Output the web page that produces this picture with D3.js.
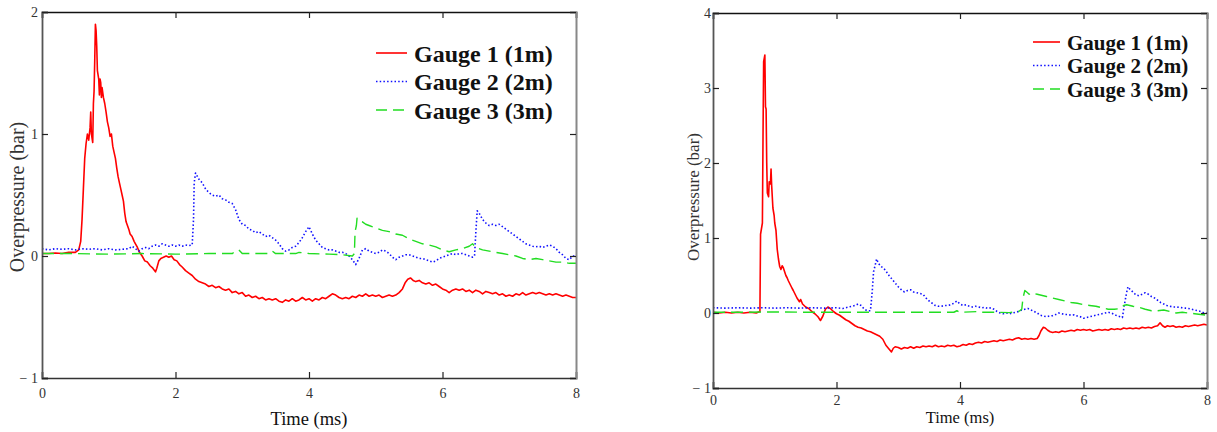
<!DOCTYPE html>
<html>
<head>
<meta charset="utf-8">
<script src="https://cdn.jsdelivr.net/npm/d3@7"></script>
<style>
    body { margin: 0; background: #fff; }
    svg { display: block; }
</style>
</head>
<body>
<svg id="chart" width="1217" height="432"></svg>
<script>
// Axis ticks shared by both panels
const xTicks = [0, 2, 4, 6, 8];
const yTicksLeft = [-1, 0, 1, 2];
const yTicksRight = [-1, 0, 1, 2, 3, 4];

const seriesNames = ["Gauge 1 (1m)", "Gauge 2 (2m)", "Gauge 3 (3m)"];

// Left panel: [time (ms), overpressure (bar)]
const gauge1Left = [[0,0.02],[0.1,0.02],[0.2,0.025],[0.3,0.02],[0.4,0.03],[0.5,0.03],[0.55,0.05],[0.58,0.12],[0.6,0.3],[0.62,0.55],[0.64,0.8],[0.66,0.92],[0.68,1.0],[0.7,0.95],[0.72,1.05],[0.73,1.18],[0.74,1.0],[0.76,0.93],[0.77,1.25],[0.78,1.35],[0.79,1.6],[0.8,1.9],[0.81,1.85],[0.82,1.72],[0.83,1.52],[0.85,1.45],[0.86,1.32],[0.87,1.45],[0.88,1.42],[0.89,1.3],[0.9,1.38],[0.92,1.3],[0.94,1.25],[0.96,1.18],[0.98,1.1],[1.0,1.05],[1.02,0.98],[1.04,1.0],[1.06,0.9],[1.08,0.85],[1.1,0.8],[1.12,0.72],[1.14,0.65],[1.16,0.6],[1.18,0.55],[1.2,0.5],[1.22,0.45],[1.24,0.35],[1.26,0.28],[1.28,0.25],[1.3,0.22],[1.32,0.18],[1.35,0.16],[1.38,0.12],[1.4,0.1],[1.43,0.07],[1.46,0.03],[1.5,0.0],[1.54,-0.04],[1.58,-0.05],[1.62,-0.08],[1.66,-0.1],[1.7,-0.13],[1.72,-0.1],[1.75,-0.04],[1.78,-0.02],[1.82,-0.01],[1.86,0.0],[1.9,-0.01],[1.94,0.0],[1.98,-0.03],[2.02,-0.04],[2.06,-0.07],[2.1,-0.09],[2.15,-0.12],[2.2,-0.14],[2.25,-0.16],[2.3,-0.19],[2.35,-0.21],[2.4,-0.22],[2.45,-0.23],[2.5,-0.25],[2.55,-0.24],[2.6,-0.26],[2.65,-0.25],[2.7,-0.27],[2.75,-0.28],[2.8,-0.27],[2.85,-0.3],[2.9,-0.29],[2.95,-0.31],[3.0,-0.3],[3.05,-0.33],[3.1,-0.32],[3.15,-0.34],[3.2,-0.33],[3.25,-0.35],[3.3,-0.34],[3.35,-0.36],[3.4,-0.35],[3.45,-0.36],[3.5,-0.35],[3.55,-0.37],[3.6,-0.38],[3.65,-0.36],[3.7,-0.37],[3.75,-0.35],[3.8,-0.37],[3.85,-0.36],[3.9,-0.34],[3.95,-0.36],[4.0,-0.35],[4.05,-0.37],[4.1,-0.35],[4.15,-0.36],[4.2,-0.34],[4.25,-0.35],[4.3,-0.33],[4.35,-0.31],[4.4,-0.32],[4.45,-0.34],[4.5,-0.35],[4.55,-0.34],[4.6,-0.35],[4.65,-0.33],[4.7,-0.34],[4.75,-0.32],[4.8,-0.33],[4.85,-0.31],[4.9,-0.33],[4.95,-0.32],[5.0,-0.33],[5.05,-0.32],[5.1,-0.34],[5.15,-0.33],[5.2,-0.32],[5.25,-0.33],[5.3,-0.32],[5.35,-0.3],[5.4,-0.27],[5.44,-0.22],[5.48,-0.19],[5.52,-0.18],[5.56,-0.2],[5.6,-0.21],[5.65,-0.2],[5.7,-0.22],[5.75,-0.23],[5.8,-0.22],[5.85,-0.24],[5.9,-0.23],[5.95,-0.25],[6.0,-0.27],[6.05,-0.28],[6.1,-0.3],[6.15,-0.28],[6.2,-0.27],[6.25,-0.28],[6.3,-0.27],[6.35,-0.29],[6.4,-0.28],[6.45,-0.3],[6.5,-0.28],[6.55,-0.29],[6.6,-0.31],[6.65,-0.29],[6.7,-0.3],[6.75,-0.31],[6.8,-0.3],[6.85,-0.32],[6.9,-0.31],[6.95,-0.33],[7.0,-0.32],[7.05,-0.33],[7.1,-0.31],[7.15,-0.32],[7.2,-0.3],[7.25,-0.32],[7.3,-0.31],[7.35,-0.3],[7.4,-0.31],[7.45,-0.3],[7.5,-0.31],[7.55,-0.32],[7.6,-0.31],[7.65,-0.32],[7.7,-0.31],[7.75,-0.32],[7.8,-0.33],[7.85,-0.32],[7.9,-0.33],[7.95,-0.34],[8.0,-0.34]];

const gauge2Left = [[0,0.06],[0.1,0.05],[0.2,0.06],[0.3,0.055],[0.4,0.06],[0.5,0.05],[0.6,0.06],[0.7,0.055],[0.8,0.06],[0.9,0.05],[1.0,0.06],[1.1,0.05],[1.2,0.055],[1.3,0.06],[1.35,0.08],[1.4,0.06],[1.45,0.04],[1.5,0.06],[1.55,0.07],[1.6,0.06],[1.65,0.08],[1.7,0.09],[1.75,0.08],[1.8,0.1],[1.85,0.09],[1.9,0.08],[1.95,0.09],[2.0,0.08],[2.05,0.09],[2.1,0.08],[2.15,0.09],[2.2,0.085],[2.25,0.09],[2.27,0.3],[2.28,0.6],[2.3,0.68],[2.35,0.63],[2.4,0.6],[2.45,0.55],[2.5,0.52],[2.55,0.5],[2.6,0.49],[2.65,0.5],[2.7,0.47],[2.75,0.46],[2.8,0.44],[2.85,0.43],[2.9,0.38],[2.95,0.3],[3.0,0.26],[3.05,0.25],[3.1,0.22],[3.15,0.21],[3.2,0.19],[3.25,0.2],[3.3,0.18],[3.35,0.16],[3.4,0.17],[3.45,0.15],[3.5,0.13],[3.55,0.1],[3.6,0.06],[3.65,0.04],[3.7,0.05],[3.75,0.07],[3.8,0.08],[3.85,0.11],[3.9,0.15],[3.95,0.2],[4.0,0.24],[4.05,0.18],[4.1,0.13],[4.15,0.1],[4.2,0.07],[4.25,0.06],[4.3,0.05],[4.35,0.05],[4.4,0.04],[4.45,0.03],[4.5,0.03],[4.55,0.02],[4.6,0.0],[4.65,-0.03],[4.7,-0.07],[4.75,-0.02],[4.8,0.05],[4.85,0.06],[4.9,0.04],[4.95,0.03],[5.0,0.02],[5.05,0.03],[5.1,0.05],[5.15,0.04],[5.2,0.02],[5.25,-0.01],[5.3,-0.03],[5.35,-0.01],[5.4,0.0],[5.45,0.01],[5.5,0.01],[5.55,0.0],[5.6,-0.01],[5.65,-0.02],[5.7,-0.02],[5.75,-0.03],[5.8,-0.04],[5.85,-0.05],[5.9,-0.04],[5.95,-0.02],[6.0,-0.01],[6.05,0.0],[6.1,0.01],[6.15,0.02],[6.2,0.01],[6.25,0.02],[6.3,0.02],[6.35,0.01],[6.4,0.0],[6.45,-0.01],[6.48,0.0],[6.5,0.2],[6.52,0.37],[6.55,0.35],[6.6,0.3],[6.65,0.27],[6.7,0.25],[6.75,0.26],[6.8,0.25],[6.85,0.26],[6.9,0.24],[6.95,0.22],[7.0,0.2],[7.05,0.18],[7.1,0.16],[7.15,0.14],[7.2,0.12],[7.25,0.1],[7.3,0.09],[7.35,0.08],[7.4,0.075],[7.45,0.08],[7.5,0.07],[7.55,0.08],[7.6,0.09],[7.65,0.08],[7.7,0.06],[7.75,0.03],[7.8,0.01],[7.85,-0.02],[7.9,-0.03],[7.95,0.0],[8.0,0.0]];

const gauge3Left = [[0,0.02],[0.5,0.02],[1.0,0.015],[1.5,0.02],[2.0,0.015],[2.5,0.02],[2.85,0.02],[2.9,0.04],[2.95,0.05],[3.0,0.02],[3.4,0.02],[3.45,0.04],[3.5,0.02],[3.8,0.02],[3.85,0.03],[4.0,0.02],[4.3,0.015],[4.5,0.01],[4.65,0.0],[4.68,0.02],[4.69,0.2],[4.71,0.25],[4.72,0.31],[4.75,0.29],[4.8,0.28],[4.85,0.26],[4.9,0.25],[5.0,0.23],[5.1,0.21],[5.2,0.2],[5.3,0.18],[5.4,0.17],[5.5,0.14],[5.6,0.12],[5.7,0.1],[5.8,0.09],[5.9,0.075],[6.0,0.05],[6.1,0.035],[6.2,0.05],[6.3,0.06],[6.4,0.08],[6.45,0.1],[6.5,0.07],[6.6,0.05],[6.7,0.04],[6.8,0.03],[6.9,0.02],[7.0,0.01],[7.1,0.0],[7.2,-0.02],[7.3,-0.03],[7.4,-0.02],[7.5,-0.03],[7.6,-0.04],[7.7,-0.05],[7.8,-0.05],[7.9,-0.06],[8.0,-0.06]];

// Right panel
const gauge1Right = [[0,0.01],[0.1,0.0],[0.2,0.01],[0.3,0.0],[0.4,0.01],[0.5,0.0],[0.6,0.01],[0.7,0.0],[0.76,0.02],[0.77,1.05],[0.8,1.2],[0.81,2.35],[0.82,3.35],[0.84,3.44],[0.85,2.75],[0.86,2.72],[0.87,2.0],[0.88,1.6],[0.9,1.55],[0.91,1.75],[0.93,1.72],[0.94,1.92],[0.95,1.7],[0.97,1.4],[0.99,1.3],[1.0,1.2],[1.02,1.1],[1.04,0.85],[1.06,0.72],[1.08,0.62],[1.1,0.58],[1.12,0.63],[1.14,0.6],[1.16,0.55],[1.18,0.5],[1.2,0.47],[1.22,0.43],[1.25,0.38],[1.28,0.33],[1.3,0.3],[1.33,0.25],[1.36,0.2],[1.4,0.15],[1.42,0.18],[1.45,0.12],[1.5,0.08],[1.55,0.06],[1.6,0.02],[1.65,-0.01],[1.7,-0.05],[1.74,-0.1],[1.78,-0.04],[1.82,0.05],[1.86,0.08],[1.9,0.06],[1.95,0.02],[2.0,-0.01],[2.05,-0.03],[2.1,-0.06],[2.15,-0.09],[2.2,-0.11],[2.25,-0.14],[2.3,-0.17],[2.35,-0.19],[2.4,-0.2],[2.45,-0.22],[2.5,-0.24],[2.55,-0.25],[2.6,-0.27],[2.65,-0.29],[2.7,-0.31],[2.75,-0.35],[2.8,-0.43],[2.85,-0.48],[2.89,-0.52],[2.92,-0.47],[2.95,-0.45],[3.0,-0.46],[3.05,-0.48],[3.1,-0.46],[3.15,-0.47],[3.2,-0.45],[3.25,-0.47],[3.3,-0.45],[3.35,-0.46],[3.4,-0.44],[3.45,-0.45],[3.5,-0.44],[3.55,-0.45],[3.6,-0.43],[3.65,-0.45],[3.7,-0.44],[3.75,-0.45],[3.8,-0.43],[3.85,-0.44],[3.9,-0.43],[3.95,-0.45],[4.0,-0.44],[4.05,-0.42],[4.1,-0.43],[4.15,-0.41],[4.2,-0.42],[4.25,-0.4],[4.3,-0.39],[4.35,-0.4],[4.4,-0.38],[4.45,-0.39],[4.5,-0.38],[4.55,-0.37],[4.6,-0.38],[4.65,-0.36],[4.7,-0.37],[4.75,-0.36],[4.8,-0.35],[4.85,-0.36],[4.9,-0.34],[4.95,-0.33],[5.0,-0.35],[5.05,-0.34],[5.1,-0.35],[5.15,-0.34],[5.2,-0.35],[5.25,-0.34],[5.28,-0.3],[5.31,-0.24],[5.35,-0.19],[5.38,-0.2],[5.42,-0.23],[5.46,-0.25],[5.5,-0.26],[5.55,-0.25],[5.6,-0.26],[5.65,-0.24],[5.7,-0.25],[5.75,-0.24],[5.8,-0.23],[5.85,-0.24],[5.9,-0.22],[5.95,-0.23],[6.0,-0.22],[6.05,-0.23],[6.1,-0.22],[6.15,-0.24],[6.2,-0.23],[6.25,-0.22],[6.3,-0.23],[6.35,-0.22],[6.4,-0.23],[6.45,-0.21],[6.5,-0.22],[6.55,-0.21],[6.6,-0.22],[6.65,-0.2],[6.7,-0.21],[6.75,-0.2],[6.8,-0.21],[6.85,-0.2],[6.9,-0.21],[6.95,-0.19],[7.0,-0.2],[7.05,-0.19],[7.1,-0.2],[7.15,-0.18],[7.2,-0.17],[7.24,-0.13],[7.28,-0.17],[7.32,-0.19],[7.36,-0.17],[7.4,-0.18],[7.45,-0.17],[7.5,-0.19],[7.55,-0.18],[7.6,-0.19],[7.65,-0.17],[7.7,-0.18],[7.75,-0.17],[7.8,-0.16],[7.85,-0.17],[7.9,-0.16],[7.95,-0.15],[8.0,-0.16]];

const gauge2Right = [[0,0.07],[0.2,0.065],[0.4,0.07],[0.6,0.065],[0.8,0.07],[1.0,0.065],[1.2,0.07],[1.4,0.065],[1.6,0.07],[1.8,0.065],[2.0,0.07],[2.1,0.06],[2.2,0.08],[2.3,0.1],[2.35,0.12],[2.4,0.1],[2.45,0.05],[2.5,0.03],[2.55,0.03],[2.58,0.3],[2.6,0.55],[2.63,0.65],[2.65,0.72],[2.68,0.66],[2.72,0.62],[2.76,0.6],[2.8,0.56],[2.85,0.5],[2.9,0.45],[2.95,0.4],[3.0,0.35],[3.05,0.31],[3.1,0.28],[3.15,0.3],[3.2,0.31],[3.25,0.28],[3.3,0.27],[3.35,0.26],[3.4,0.25],[3.45,0.2],[3.5,0.16],[3.55,0.13],[3.6,0.1],[3.65,0.09],[3.7,0.09],[3.75,0.1],[3.8,0.1],[3.85,0.11],[3.9,0.13],[3.95,0.16],[4.0,0.12],[4.05,0.1],[4.1,0.11],[4.15,0.09],[4.2,0.08],[4.25,0.09],[4.3,0.08],[4.35,0.07],[4.4,0.075],[4.45,0.06],[4.5,0.07],[4.55,0.05],[4.6,0.02],[4.65,0.0],[4.7,-0.01],[4.75,0.0],[4.8,-0.01],[4.85,0.0],[4.9,0.01],[4.95,0.02],[5.0,0.04],[5.05,0.05],[5.1,0.06],[5.15,0.04],[5.2,0.02],[5.25,0.0],[5.3,-0.03],[5.35,-0.04],[5.4,-0.05],[5.45,-0.04],[5.5,-0.035],[5.55,-0.02],[5.6,0.0],[5.65,-0.01],[5.7,-0.02],[5.75,-0.02],[5.8,-0.03],[5.85,-0.025],[5.9,-0.04],[5.95,-0.05],[6.0,-0.07],[6.05,-0.06],[6.1,-0.05],[6.15,-0.04],[6.2,-0.03],[6.25,-0.02],[6.3,-0.01],[6.35,0.0],[6.4,0.01],[6.45,0.0],[6.5,-0.02],[6.55,-0.04],[6.6,-0.05],[6.63,-0.06],[6.66,0.1],[6.7,0.28],[6.72,0.35],[6.75,0.32],[6.8,0.28],[6.85,0.24],[6.9,0.23],[6.95,0.25],[7.0,0.27],[7.05,0.25],[7.1,0.22],[7.15,0.2],[7.2,0.17],[7.25,0.14],[7.3,0.12],[7.35,0.1],[7.4,0.09],[7.45,0.08],[7.5,0.08],[7.55,0.075],[7.6,0.07],[7.65,0.065],[7.7,0.06],[7.75,0.05],[7.8,0.04],[7.85,0.03],[7.9,0.02],[7.95,0.0],[8.0,0.0]];

const gauge3Right = [[0,0.01],[0.5,0.01],[1.0,0.015],[1.5,0.01],[2.0,0.01],[2.5,0.01],[3.0,0.01],[3.5,0.01],[3.9,0.01],[3.95,0.03],[4.0,0.01],[4.3,0.02],[4.35,0.01],[4.6,0.01],[4.8,0.005],[4.95,0.02],[5.0,0.05],[5.02,0.2],[5.05,0.3],[5.08,0.28],[5.12,0.25],[5.16,0.27],[5.2,0.26],[5.25,0.25],[5.3,0.24],[5.35,0.23],[5.4,0.22],[5.5,0.2],[5.6,0.18],[5.7,0.16],[5.8,0.14],[5.9,0.13],[6.0,0.11],[6.1,0.1],[6.2,0.09],[6.3,0.07],[6.4,0.05],[6.5,0.05],[6.6,0.06],[6.65,0.1],[6.7,0.11],[6.8,0.09],[6.9,0.075],[7.0,0.05],[7.1,0.03],[7.2,0.03],[7.3,0.04],[7.4,0.02],[7.5,0.0],[7.6,0.01],[7.7,0.0],[7.8,-0.01],[7.9,-0.02],[8.0,-0.03]];

const seriesStyles = [
    {color: "#ff0000", dash: null, width: 1.6},
    {color: "#1010ff", dash: "1.5,2.2", width: 1.6},
    {color: "#22dd22", dash: "12,6", width: 1.4}
];

const svg = d3.select("#chart");
const serif = "'Liberation Serif', 'DejaVu Serif', serif";

const fmt = d => d < 0 ? "\u2212 " + Math.abs(d) : String(d);

function styleAxis(sel, domainColor, domainWidth, fontSize) {
    sel.attr("font-family", serif).attr("font-size", fontSize);
    sel.select(".domain").attr("stroke", domainColor).attr("stroke-width", domainWidth);
    sel.selectAll(".tick line").attr("stroke", "#222").attr("stroke-width", 1.2);
    sel.selectAll(".tick text").attr("fill", "#333");
}

function drawPanel(p) {
    const w = p.right - p.left;
    const h = p.bottom - p.top;

    const x = d3.scaleLinear().domain([0, 8]).range([0, w]);
    const y = d3.scaleLinear().domain(p.yDomain).range([h, 0]);

    const g = svg.append("g").attr("transform", `translate(${p.left},${p.top})`);

    // lines first so the frame sits on top
    const line = d3.line().x(d => x(d[0])).y(d => y(d[1]));
    p.series.forEach((data, i) => {
        const s = seriesStyles[i];
        g.append("path")
            .datum(data)
            .attr("fill", "none")
            .attr("stroke", s.color)
            .attr("stroke-width", s.width)
            .attr("stroke-linejoin", "round")
            .attr("stroke-dasharray", s.dash)
            .attr("d", line);
    });

    // bottom axis with labels, inward ticks
    const xb = g.append("g")
        .attr("transform", `translate(0,${h})`)
        .call(d3.axisBottom(x).tickValues(xTicks).tickSize(-6).tickPadding(p.xPad).tickFormat(fmt));
    styleAxis(xb, "#333", 1.6, p.tickFont);

    // top axis, ticks only
    const xt = g.append("g")
        .call(d3.axisTop(x).tickValues(xTicks).tickSize(-6).tickFormat(""));
    styleAxis(xt, "#111", 1.6, p.tickFont);

    // left axis with labels
    const yl = g.append("g")
        .call(d3.axisLeft(y).tickValues(p.yTicks).tickSize(-6).tickPadding(p.yPad).tickFormat(fmt));
    styleAxis(yl, "#555", 1.8, p.tickFont);

    // right axis, ticks only
    const yr = g.append("g")
        .attr("transform", `translate(${w},0)`)
        .call(d3.axisRight(y).tickValues(p.yTicks).tickSize(-6).tickFormat(""));
    styleAxis(yr, "#888", 2, p.tickFont);

    // axis titles
    svg.append("text")
        .attr("x", p.left + w / 2)
        .attr("y", p.xTitleY)
        .attr("text-anchor", "middle")
        .style("font-family", serif)
        .style("font-size", p.xTitleFont + "px")
        .style("fill", "#111")
        .text("Time (ms)");

    svg.append("text")
        .attr("transform", `translate(${p.yTitleX},${p.yTitleY}) rotate(-90)`)
        .attr("text-anchor", "middle")
        .style("font-family", serif)
        .style("font-size", p.yTitleFont + "px")
        .style("fill", "#333")
        .text("Overpressure (bar)");

    // legend
    const lg = svg.append("g").attr("transform", `translate(${p.legendX},${p.legendY})`);
    seriesNames.forEach((name, i) => {
        const s = seriesStyles[i];
        const cy = i * p.legendStep;
        lg.append("line")
            .attr("x1", 0).attr("x2", p.legendLine)
            .attr("y1", cy).attr("y2", cy)
            .attr("stroke", s.color)
            .attr("stroke-width", 1.6)
            .attr("stroke-dasharray", i === 2 ? "11,6" : s.dash);
        lg.append("text")
            .attr("x", p.legendLine + 7)
            .attr("y", cy + p.legendFont * 0.36)
            .style("font-family", serif)
            .style("font-weight", "bold")
            .style("font-size", p.legendFont + "px")
            .style("fill", "#111")
            .text(name);
    });
}

drawPanel({
    left: 42, right: 576, top: 12, bottom: 378,
    yDomain: [-1, 2], yTicks: yTicksLeft,
    series: [gauge1Left, gauge2Left, gauge3Left],
    tickFont: 14, xPad: 10, yPad: 4,
    xTitleY: 425, xTitleFont: 18.5,
    yTitleX: 24, yTitleY: 197, yTitleFont: 20,
    legendX: 376, legendY: 53, legendStep: 28.5, legendLine: 31, legendFont: 24
});

drawPanel({
    left: 713, right: 1207, top: 13, bottom: 388,
    yDomain: [-1, 4], yTicks: yTicksRight,
    series: [gauge1Right, gauge2Right, gauge3Right],
    tickFont: 14, xPad: 7, yPad: 2,
    xTitleY: 423, xTitleFont: 16.5,
    yTitleX: 699, yTitleY: 197, yTitleFont: 17,
    legendX: 1033, legendY: 42, legendStep: 23.5, legendLine: 27, legendFont: 21
});
</script>
</body>
</html>
